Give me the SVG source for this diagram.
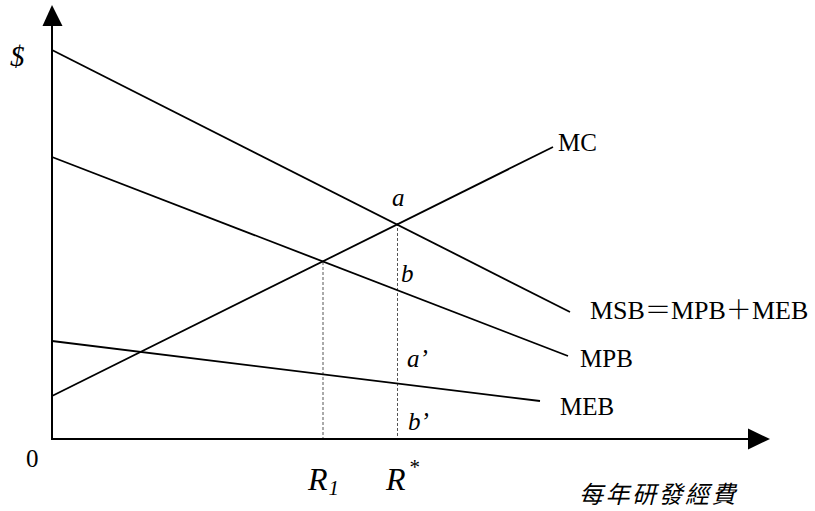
<svg xmlns="http://www.w3.org/2000/svg" width="815" height="511" viewBox="0 0 815 511">
<style>
.ax{stroke:#000;stroke-width:2;fill:none}
.cv{stroke:#000;stroke-width:1.8;fill:none}
.ds{stroke:#555;stroke-width:1;stroke-dasharray:3,2;fill:none}
.t{font-family:"Liberation Serif","Times New Roman","DejaVu Serif",serif;font-size:25px;fill:#000}
.i{font-style:italic}
.big{font-size:32px}
.dol{font-size:29px}
.sub{font-size:21px}
.sym{font-family:"Noto Sans CJK TC","Noto Sans CJK SC",sans-serif;font-weight:300}
.cjk{font-family:"Noto Sans CJK TC","Noto Sans CJK SC",sans-serif;font-style:italic;font-size:24px;fill:#000}
</style>
<rect width="815" height="511" fill="#fff"/>
<g id="axes">
<line class="ax" x1="52" y1="439" x2="52" y2="22"/>
<polygon points="52,5 42.5,26 62.5,26" fill="#000"/>
<line class="ax" x1="51" y1="439" x2="750" y2="439"/>
<polygon points="770,439 748,428.5 748,449.5" fill="#000"/>
</g>
<g id="connectors">
<line class="ds" x1="323" y1="262" x2="323" y2="438"/>
<line class="ds" x1="397.5" y1="223" x2="397.5" y2="438"/>
</g>
<g id="MSB"><line class="cv" x1="52" y1="50" x2="570" y2="312"/>
<text class="t" x="590" y="319" style="font-size:26px">MSB<tspan class="sym">＝</tspan>MPB<tspan class="sym">＋</tspan>MEB</text></g>
<g id="MPB"><line class="cv" x1="52" y1="157" x2="568" y2="356"/>
<text class="t" x="580" y="367">MPB</text></g>
<g id="MC"><line class="cv" x1="52" y1="396" x2="553" y2="147"/>
<text class="t" x="558" y="151">MC</text></g>
<g id="MEB"><line class="cv" x1="52" y1="341" x2="540" y2="401"/>
<text class="t" x="560" y="415">MEB</text></g>
<g id="labels">
<text class="t i dol" x="10" y="66">$</text>
<text class="t" x="26" y="467">0</text>
<text class="t i" x="392" y="206">a</text>
<text class="t i" x="401" y="282">b</text>
<text class="t i" x="407" y="367">a’</text>
<text class="t i" x="408" y="430">b’</text>
<text class="t i big" x="308" y="490">R<tspan class="sub" dy="5" dx="1">1</tspan></text>
<text class="t i big" x="386" y="490">R<tspan class="sub" style="font-style:normal" dy="-16" dx="4">*</tspan></text>
<text class="cjk" x="579" y="503" letter-spacing="2.5">每年研發經費</text>
</g>
</svg>
